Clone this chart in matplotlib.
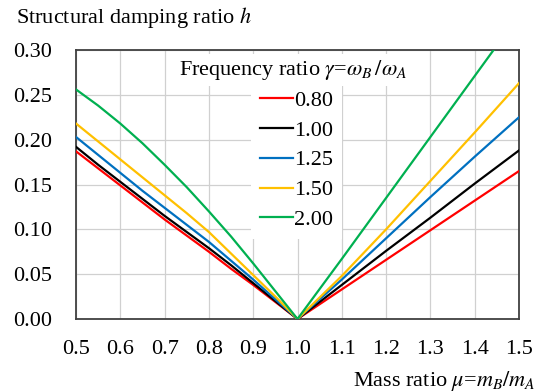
import matplotlib
matplotlib.use("Agg")
import matplotlib.pyplot as plt

plt.rcParams['font.family'] = ['Liberation Serif', 'DejaVu Serif']
plt.rcParams['mathtext.fontset'] = 'stix'

mass_ratio = [0.5, 0.55, 0.6, 0.65, 0.7, 0.75, 0.8, 0.85, 0.9, 0.95, 1.0,
              1.1, 1.2, 1.3, 1.4, 1.5]
freq_labels = ["0.80", "1.00", "1.25", "1.50", "2.00"]
h_080 = [0.187, 0.168, 0.149, 0.130, 0.111, 0.093, 0.075, 0.056, 0.038, 0.019, 0.0,
         0.033, 0.066, 0.099, 0.132, 0.165]
h_100 = [0.192, 0.172, 0.153, 0.134, 0.115, 0.097, 0.079, 0.060, 0.040, 0.020, 0.0,
         0.038, 0.076, 0.113, 0.151, 0.188]
h_125 = [0.203, 0.183, 0.163, 0.143, 0.124, 0.105, 0.086, 0.065, 0.044, 0.022, 0.0,
         0.044, 0.090, 0.136, 0.181, 0.225]
h_150 = [0.218, 0.198, 0.178, 0.158, 0.138, 0.118, 0.097, 0.073, 0.049, 0.025, 0.0,
         0.048, 0.100, 0.154, 0.208, 0.263]
h_200 = [0.256, 0.238, 0.218, 0.196, 0.172, 0.147, 0.120, 0.092, 0.062, 0.031, 0.0,
         0.067, 0.135, 0.203, 0.271, 0.339]
series = [h_080, h_100, h_125, h_150, h_200]
colors = ["#FF0000", "#000000", "#0070C0", "#FFC000", "#00B050"]
x_ticks = [0.5, 0.6, 0.7, 0.8, 0.9, 1.0, 1.1, 1.2, 1.3, 1.4, 1.5]
y_ticks = [0.00, 0.05, 0.10, 0.15, 0.20, 0.25, 0.30]

fig = plt.figure(figsize=(5.43, 3.92), dpi=100)
ax = fig.add_axes([76/543, 73/392, 443/543, 269/392])

for vals, c, lab in zip(series, colors, freq_labels):
    ax.plot(mass_ratio, vals, color=c, lw=1.6, label=lab, zorder=3)

ax.set_xlim(0.5, 1.5)
ax.set_ylim(0.0, 0.30)
ax.set_xticks(x_ticks)
ax.set_xticklabels([f"{v:.1f}" for v in x_ticks])
ax.set_yticks(y_ticks)
ax.set_yticklabels([f"{v:.2f}" for v in y_ticks])
ax.tick_params(length=0, labelsize=16)
ax.tick_params(axis="x", pad=15)
ax.tick_params(axis="y", pad=17)
ax.grid(True, color="#D0D0D0", lw=0.9, zorder=0)
ax.set_axisbelow(True)
for s in ax.spines.values():
    s.set_color("#404040")
    s.set_linewidth(1.3)

leg = ax.legend(loc="upper left", bbox_to_anchor=(0.395, 0.884), fontsize=16,
                handlelength=1.5, handletextpad=0.05, labelspacing=0.42,
                borderpad=0.4, borderaxespad=0, frameon=True, fancybox=False)
leg.get_frame().set_facecolor("white")
leg.get_frame().set_edgecolor("none")
leg.get_frame().set_alpha(1.0)
leg.set_zorder(5)

ax.text(0.49, 0.926, r"Frequency ratio $\gamma$=$\omega_B\,/\omega_A$", transform=ax.transAxes,
        ha="center", va="center", fontsize=16, zorder=6,
        bbox=dict(facecolor="white", edgecolor="none", pad=3))

fig.text(16/543, 1 - 18/392, r"Structural damping ratio $h$", ha="left", va="center", fontsize=16)
fig.text(536/543, 1 - 381/392, r"Mass ratio $\mu$=$m_B/m_A$", ha="right", va="center", fontsize=16)

fig.savefig("out.png", dpi=100)
